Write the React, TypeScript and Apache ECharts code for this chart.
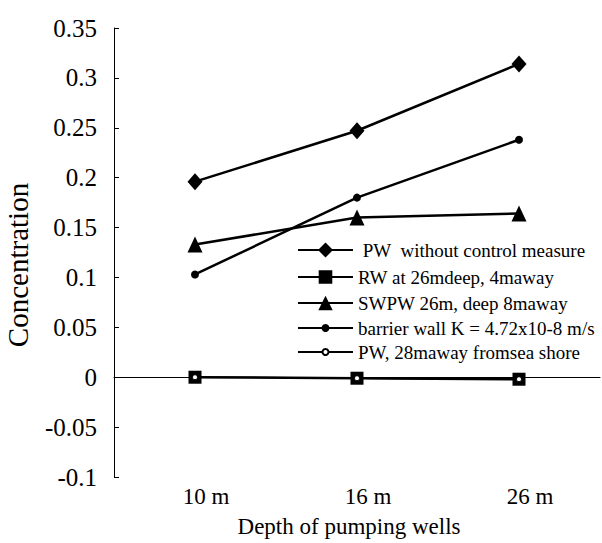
import React, { useEffect, useRef } from "react";
import * as echarts from "echarts";

const depthCategories = ["10 m", "16 m", "26 m"];
const pwWithoutControl = [0.196, 0.247, 0.314];
const rwAt26m = [0, -0.001, -0.002];
const swpw26m = [0.133, 0.16, 0.164];
const barrierWall = [0.103, 0.18, 0.238];
const pw28mAway = [0, -0.001, -0.002];

const seriesNames = [
  " PW  without control measure",
  "RW at 26mdeep, 4maway",
  "SWPW 26m, deep 8maway",
  "barrier wall K = 4.72x10-8 m/s",
  "PW, 28maway fromsea shore",
];

const FONT = "Liberation Serif";

// legend row centres and icon heights (symbol = 0.8 * itemHeight)
const legendRowCenters = [250, 277, 303, 328, 352];
const legendIconHeights = [18.75, 17, 18, 10, 7.5];

export default function App() {
  const ref = useRef<HTMLDivElement>(null);
  useEffect(() => {
    document.body.style.margin = "0";
    const chart = echarts.init(ref.current!, null, { renderer: "svg" });
    const lineBase = (name: string, data: number[], symbol: string, size: any, width: number) => ({
      name,
      type: "line",
      data,
      symbol,
      symbolSize: size,
      lineStyle: { color: "#000", width },
      itemStyle: { color: "#000" },
      z: 2,
    });
    const legends = seriesNames.map((n, i) => ({
      orient: "vertical",
      left: 297,
      top: legendRowCenters[i] - 10,
      padding: 0,
      itemWidth: 55,
      itemHeight: legendIconHeights[i],
      selectedMode: false,
      textStyle: { fontFamily: FONT, fontSize: 19, color: "#000", lineHeight: 20 },
      data: [n],
    }));
    chart.setOption({
      animation: false,
      backgroundColor: "#fff",
      textStyle: { fontFamily: FONT },
      grid: { left: 114, right: 2, top: 28, bottom: 62 },
      legend: legends,
      xAxis: {
        type: "category",
        data: depthCategories,
        boundaryGap: true,
        name: "Depth of pumping wells",
        nameLocation: "middle",
        nameGap: 38,
        nameTextStyle: { fontFamily: FONT, fontSize: 23, color: "#000", padding: [0, 16, 0, 0] },
        axisLine: { lineStyle: { color: "#000", width: 1 } },
        axisTick: { alignWithLabel: true, inside: true, length: 6, lineStyle: { color: "#000", width: 1.5 } },
        axisLabel: {
          fontFamily: FONT,
          fontSize: 23,
          color: "#000",
          margin: 8,
          padding: [0, 0, 0, 22],
        },
        splitLine: { show: false },
      },
      yAxis: {
        type: "value",
        min: -0.1,
        max: 0.35,
        interval: 0.05,
        axisLine: { show: true, lineStyle: { color: "#000", width: 1 } },
        axisTick: { show: true, inside: true, length: 5, lineStyle: { color: "#000" } },
        axisLabel: {
          fontFamily: FONT,
          fontSize: 25,
          color: "#000",
          margin: 17,
          formatter: (v: number) => String(parseFloat(v.toFixed(2))),
        },
        splitLine: { show: false },
      },
      graphic: [
        {
          type: "text",
          x: 18,
          y: 265,
          rotation: Math.PI / 2,
          style: {
            text: "Concentration",
            fontFamily: FONT,
            fontSize: 29,
            fill: "#000",
            align: "center",
            verticalAlign: "middle",
          },
        },
      ],
      series: [
        lineBase(seriesNames[0], pwWithoutControl, "diamond", [15, 17], 2.5),
        lineBase(seriesNames[1], rwAt26m, "rect", 13, 2.5),
        lineBase(seriesNames[2], swpw26m, "triangle", [15, 16], 2.5),
        lineBase(seriesNames[3], barrierWall, "circle", 8, 2.5),
        {
          name: seriesNames[4],
          type: "line",
          data: pw28mAway,
          symbol: "circle",
          symbolSize: 5,
          showAllSymbol: true,
          lineStyle: { color: "#000", width: 1.5 },
          itemStyle: { color: "#fff", borderColor: "#000", borderWidth: 1 },
          z: 3,
        },
      ],
    });
    return () => chart.dispose();
  }, []);
  return <div ref={ref} style={{ width: 602, height: 543 }} />;
}
